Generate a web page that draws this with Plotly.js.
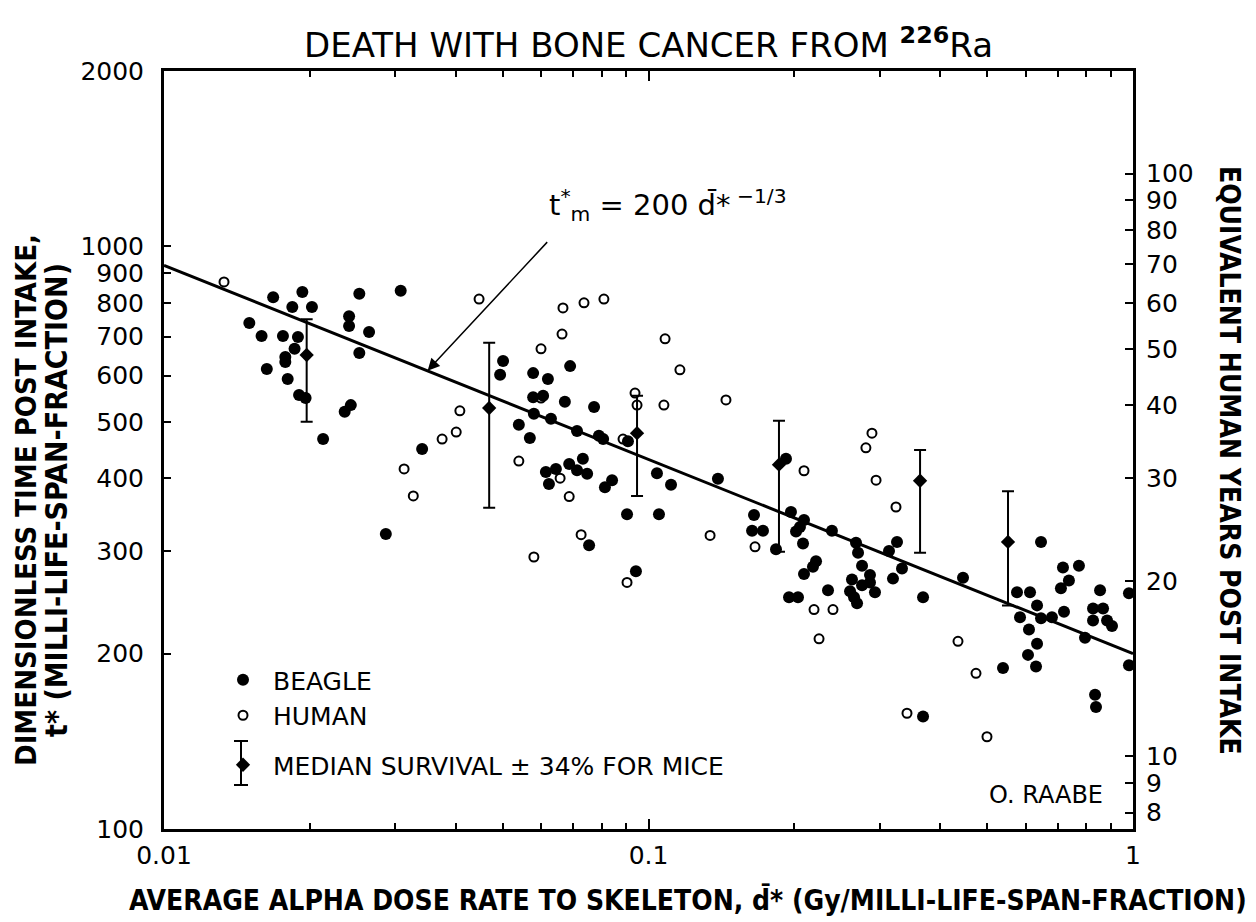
<!DOCTYPE html>
<html>
<head>
<meta charset="utf-8">
<script src="https://cdn.plot.ly/plotly-3.0.1.min.js"></script>
<style>html,body{margin:0;padding:0;background:#fff;}#chart{width:1256px;height:922px;}</style>
</head>
<body>
<div id="chart"></div>
<script>
// ---- data ----
const beagleX = [
  0.0168,0.0193,0.0184,0.0202,0.0150,0.0159,0.0176,0.0189,0.0186,0.0178,
  0.0178,0.0163,0.0180,0.0190,0.0196,0.0253,0.0241,0.0241,0.0265,0.0253,
  0.0236,0.0243,0.0213,0.0308,0.0341,0.0287,
  0.0501,0.0494,0.0578,0.0620,0.0689,0.0578,0.0606,0.0672,0.0772,0.0580,
  0.0629,0.0540,0.0569,0.0712,0.0790,0.0806,0.0907,0.1041,0.1113,0.1391,
  0.0614,0.0644,0.0623,0.0686,0.0732,0.0712,0.0747,0.0841,0.0813,0.0903,
  0.1051,0.0754,0.0942,
  0.1922,0.1651,0.1636,0.1723,0.1833,0.1968,0.2094,0.2054,0.2016,0.2084,
  0.2217,0.2185,0.2094,0.1950,0.2035,0.2347,0.2391,0.2681,0.2707,0.2759,
  0.2630,0.2865,0.2759,0.2865,0.2606,0.2656,0.2694,0.2934,0.3136,0.3258,
  0.3336,0.3196,0.3687,0.3687,0.4458,0.5391,0.6459,0.5762,0.6130,0.6338,
  0.5845,0.6459,0.6803,0.6100,0.6338,0.6071,0.6307,0.7169,0.7734,0.7375,
  0.7100,0.7204,0.7960,0.8551,0.8270,0.8674,0.8270,0.8840,0.9050,0.8350,
  0.8387,0.981,0.981
];
const beagleY = [
  818,835,787,787,739,702,702,699,667,646,
  633,616,592,556,549,829,759,730,713,656,
  520,534,467,839,449,321,
  636,602,606,592,623,551,554,541,530,516,
  506,494,469,482,473,467,463,408,390,399,
  410,415,391,423,432,413,407,397,386,347,
  347,307,277,
  432,346,325,325,302,350,339,330,324,309,
  288,282,274,250,250,257,325,310,298,283,
  268,273,262,265,256,250,244,255,300,311,
  280,269,250,156,270,189,311,255,255,242,
  231,230,231,220,208,199,190,281,283,267,
  259,236,213,257,239,239,228,228,223,170,
  162,254,191
];
const humanX = [
  0.0133,0.0375,0.0313,0.0327,0.0447,0.0666,0.0736,0.0809,0.0663,0.0600,
  0.1082,0.1161,0.0600,0.0408,0.0401,0.0938,0.0947,0.1076,0.1445,0.0886,
  0.0540,0.0657,0.0686,0.0726,0.0580,0.0903,0.1340,0.2094,0.1659,0.2196,
  0.2403,0.2249,0.2892,0.2810,0.2949,0.3242,0.3416,0.4353,0.4742,0.4996
];
const humanY = [
  869,467,415,373,812,784,800,812,707,667,
  694,614,549,522,480,560,534,534,545,467,
  428,400,372,320,293,265,319,412,305,238,
  238,212,478,451,397,357,158,210,185,144
];
const miceX      = [0.0197,0.0469,0.0947,0.1859,0.3635,0.5521];
const miceMedian = [651,528,478,422,396,311];
const miceUpper  = [750,683,554,502,447,380];
const miceLower  = [500,356,373,299,298,242];
// fitted line t*_m = 200 d*^(-1/3), its two ends as drawn
const fitX = [0.01, 1];
const fitY = [928, 200];

const xTickVals = [0.01, 0.1, 1];
const xTickText = ['0.01', '0.1', '1'];
const xMinorVals = [0.02,0.03,0.04,0.05,0.06,0.07,0.08,0.09,0.2,0.3,0.4,0.5,0.6,0.7,0.8,0.9];
const yTickVals = [100,200,300,400,500,600,700,800,900,1000,2000];
const yTickText = ['100','200','300','400','500','600','700','800','900','1000','2000'];
const y2TickVals = [8,9,10,20,30,40,50,60,70,80,90,100];
const y2TickText = ['8','9','10','20','30','40','50','60','70','80','90','100'];
// years = t* x 75 / 1000 (75-year human life span)
const yearsPerTstar = 0.075;

const FONT = 'DejaVu Sans, Liberation Sans, sans-serif';
const BOLD = 'DejaVu Sans Condensed, Liberation Sans Narrow, DejaVu Sans, sans-serif';

const errPlus = miceUpper.map((u, i) => u - miceMedian[i]);
const errMinus = miceLower.map((l, i) => miceMedian[i] - l);

const traces = [
  {x: fitX, y: fitY, mode: 'lines', line: {color: 'black', width: 3}, showlegend: false, hoverinfo: 'skip'},
  {x: beagleX, y: beagleY, mode: 'markers', name: 'BEAGLE', legendgroup: 'a',
   marker: {symbol: 'circle', size: 12, color: 'black'}},
  {x: humanX, y: humanY, mode: 'markers', name: 'HUMAN', legendgroup: 'a',
   marker: {symbol: 'circle-open', size: 9, color: 'black', line: {width: 2, color: 'black'}}},
  {x: miceX, y: miceMedian, mode: 'markers', name: 'MEDIAN SURVIVAL \u00b1 34% FOR MICE', legendgroup: 'b',
   marker: {symbol: 'diamond', size: 11, color: 'black'},
   error_y: {type: 'data', symmetric: false, array: errPlus, arrayminus: errMinus,
             color: 'black', thickness: 2, width: 6}},
  {x: [null], y: [null], yaxis: 'y2', mode: 'markers', showlegend: false, hoverinfo: 'skip'}
];

// paper-coordinate helpers for the plot frame (164..1133 px, 71..829 px)
const L = 164, R = 1133, T = 71, B = 829;
const px = v => (v - L) / (R - L);
const py = v => (B - v) / (B - T);

const layout = {
  width: 1256, height: 922,
  margin: {l: L, r: 1256 - R, t: T, b: 922 - B, pad: 0},
  paper_bgcolor: 'white', plot_bgcolor: 'white',
  font: {family: FONT, color: 'black', size: 25},
  title: {text: 'DEATH WITH BONE CANCER FROM <sup><b>226</b></sup>Ra',
          font: {family: FONT, size: 34, color: 'black'},
          x: 0.5, xref: 'paper', xanchor: 'center', y: 1 - 45 / 922, yref: 'container', yanchor: 'middle'},
  showlegend: true,
  legend: {x: px(213), y: py(657), xanchor: 'left', yanchor: 'top', bgcolor: 'rgba(0,0,0,0)',
           font: {family: FONT, size: 25, color: 'black'}, traceorder: 'grouped', tracegroupgap: 14,
           itemwidth: 50, borderwidth: 0},
  xaxis: {type: 'log', range: [-2, 0], tickmode: 'array', tickvals: xTickVals, ticktext: xTickText,
          ticks: 'inside', ticklen: 10, tickwidth: 2, tickcolor: 'black',
          minor: {tickmode: 'array', tickvals: xMinorVals, ticks: 'inside', ticklen: 6, tickwidth: 2, tickcolor: 'black', showgrid: false},
          showline: true, linewidth: 3, linecolor: 'black', mirror: 'ticks',
          showgrid: false, zeroline: false, ticklabelstandoff: 2,
          tickfont: {family: FONT, size: 25, color: 'black'}},
  yaxis: {type: 'log', range: [2, Math.log10(2000)], tickmode: 'array', tickvals: yTickVals, ticktext: yTickText,
          ticks: 'inside', ticklen: 7, tickwidth: 2, tickcolor: 'black',
          showline: true, linewidth: 3, linecolor: 'black', mirror: true,
          showgrid: false, zeroline: false, ticklabelstandoff: 12,
          tickfont: {family: FONT, size: 25, color: 'black'}},
  yaxis2: {type: 'log', overlaying: 'y', side: 'right',
           range: [Math.log10(100 * yearsPerTstar), Math.log10(2000 * yearsPerTstar)],
           tickmode: 'array', tickvals: y2TickVals, ticktext: y2TickText,
           ticks: 'inside', ticklen: 8, tickwidth: 2, tickcolor: 'black',
           showline: false, showgrid: false, zeroline: false, ticklabelstandoff: 12,
           tickfont: {family: FONT, size: 25, color: 'black'}},
  annotations: [
    {text: '<b>AVERAGE ALPHA DOSE RATE TO SKELETON, d\u0304* (Gy/MILLI-LIFE-SPAN-FRACTION)</b>',
     xref: 'paper', yref: 'paper', x: px(688), y: py(900), xanchor: 'center', yanchor: 'middle',
     showarrow: false, font: {family: BOLD, size: 28, color: 'black'}},
    {text: '<b>DIMENSIONLESS TIME POST INTAKE,</b>', textangle: -90,
     xref: 'paper', yref: 'paper', x: px(26), y: py(500), xanchor: 'center', yanchor: 'middle',
     showarrow: false, font: {family: BOLD, size: 29, color: 'black'}},
    {text: '<b>t* (MILLI-LIFE-SPAN-FRACTION)</b>', textangle: -90,
     xref: 'paper', yref: 'paper', x: px(57), y: py(500), xanchor: 'center', yanchor: 'middle',
     showarrow: false, font: {family: BOLD, size: 30, color: 'black'}},
    {text: '<b>EQUIVALENT HUMAN YEARS POST INTAKE</b>', textangle: 90,
     xref: 'paper', yref: 'paper', x: px(1230), y: py(460), xanchor: 'center', yanchor: 'middle',
     showarrow: false, font: {family: BOLD, size: 28, color: 'black'}},
    {text: 't<sup>*</sup><sub>m</sub> = 200 d\u0304*<sup> \u22121/3</sup>',
     xref: 'paper', yref: 'paper', x: px(668), y: py(205), xanchor: 'center', yanchor: 'middle',
     showarrow: false, font: {family: FONT, size: 29, color: 'black'}},
    {text: '', x: Math.log10(0.035), y: Math.log10(612), xref: 'x', yref: 'y',
     showarrow: true, arrowhead: 2, arrowsize: 1.6, arrowwidth: 1.5, arrowcolor: 'black',
     ax: 121, ay: -130},
    {text: 'O. RAABE', xref: 'paper', yref: 'paper', x: px(1105), y: py(795), xanchor: 'right', yanchor: 'middle',
     showarrow: false, font: {family: FONT, size: 24, color: 'black'}}
  ],
  shapes: [
    // error-bar glyph for the mice entry of the legend
    {type: 'line', xref: 'paper', yref: 'paper', x0: px(241), x1: px(241), y0: py(741), y1: py(785), line: {color: 'black', width: 2}},
    {type: 'line', xref: 'paper', yref: 'paper', x0: px(234), x1: px(248), y0: py(741), y1: py(741), line: {color: 'black', width: 2}},
    {type: 'line', xref: 'paper', yref: 'paper', x0: px(234), x1: px(248), y0: py(785), y1: py(785), line: {color: 'black', width: 2}}
  ]
};

Plotly.newPlot('chart', traces, layout, {displayModeBar: false, staticPlot: true});
</script>
</body>
</html>
